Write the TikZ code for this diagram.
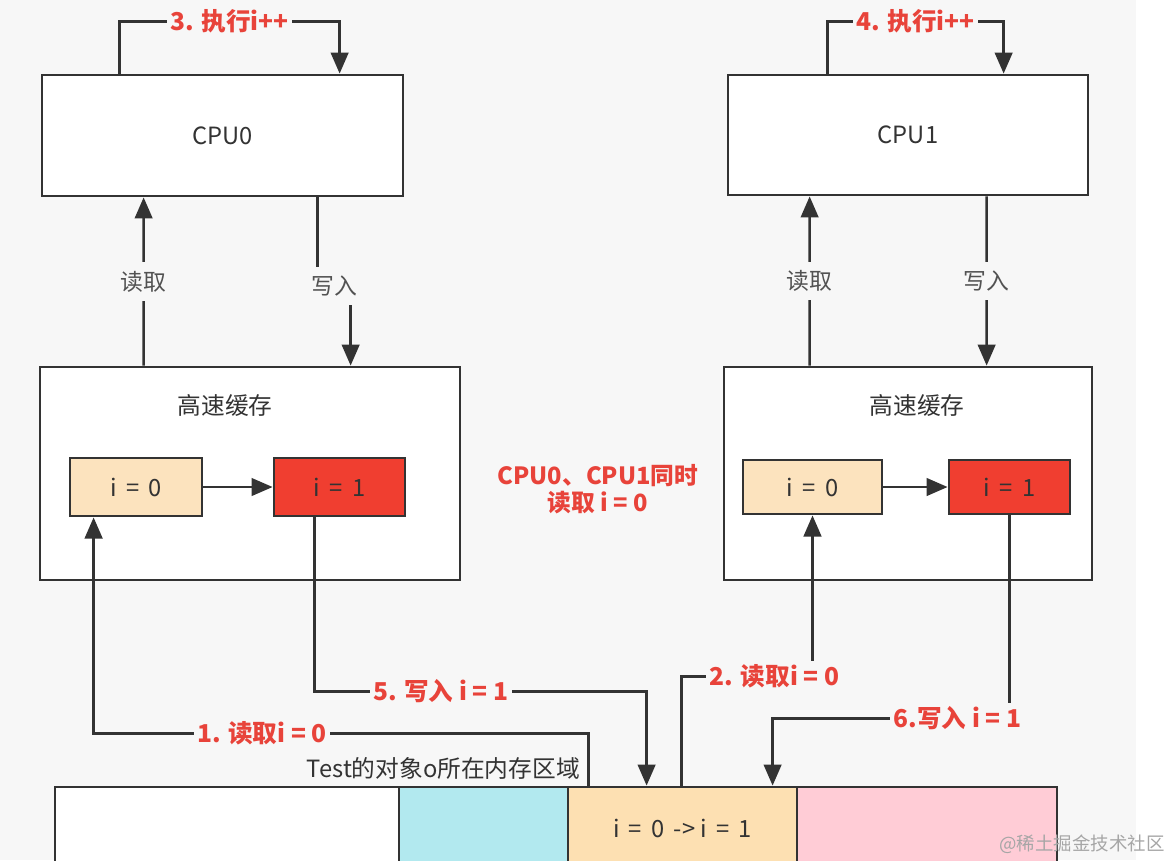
\documentclass[tikz,border=0pt]{standalone}
\usepackage{fontspec}
\setmainfont{Noto Sans CJK SC}
\usetikzlibrary{arrows.meta,calc}
\definecolor{bgc}{HTML}{F7F7F7}
\definecolor{linec}{HTML}{333333}
\definecolor{txtc}{HTML}{333333}
\definecolor{stepred}{HTML}{E8433A}
\definecolor{valorange}{HTML}{FCE3BE}
\definecolor{valred}{HTML}{F03E30}
\definecolor{memcyan}{HTML}{B2E9EF}
\definecolor{memorange}{HTML}{FDE0B2}
\definecolor{mempink}{HTML}{FFCCD6}

\tikzset{
  box/.style={draw=linec, line width=1.6pt, fill=white, text=txtc,
    font=\fontsize{13.5}{16}\selectfont},
  valbox/.style={box, minimum height=1.12cm},
  link/.style={draw=linec, line width=1.5pt, -{Triangle[length=12pt,width=10pt]}},
  steplbl/.style={fill=bgc, text=stepred, inner sep=2pt,
    font=\bfseries\fontsize{14}{16}\selectfont},
  rwlbl/.style={fill=bgc, text=txtc!85, inner sep=5pt,
    font=\fontsize{13}{15}\selectfont}
}

\begin{document}
\begin{tikzpicture}[x=0.02cm, y=-0.02cm]
  \clip (0,0) rectangle (1168,860);
  \fill[bgc] (0,0) rectangle (1136,860);
  \fill[white] (1136,0) rectangle (1168,860);

  \node[box, minimum width=7.22cm, minimum height=2.42cm] (cpu0) at (222.5,135.5) {CPU0};
  \node[box, minimum width=7.2cm, minimum height=2.4cm] (cpu1) at (908,135) {CPU1};

  \node[box, minimum width=8.4cm, minimum height=4.26cm] (cache0) at (250,473.5) {};
  \node[box, minimum width=7.36cm, minimum height=4.26cm] (cache1) at (908,473.5) {};
  \node[text=txtc, font=\fontsize{13.5}{16}\selectfont] (t0) at (225,405) {高速缓存};
  \node[text=txtc, font=\fontsize{13.5}{16}\selectfont] (t1) at (917,405) {高速缓存};

  \node[valbox, fill=valorange, minimum width=2.64cm, minimum height=1.16cm] (c0a) at (136,487) {i \,=\, 0};
  \node[valbox, fill=valred, minimum width=2.62cm, minimum height=1.16cm] (c0b) at (339.5,487) {i \,=\, 1};
  \node[valbox, fill=valorange, minimum width=2.78cm, minimum height=1.08cm] (c1a) at (812.5,487) {i \,=\, 0};
  \node[valbox, fill=valred, minimum width=2.42cm, minimum height=1.08cm] (c1b) at (1009.5,487) {i \,=\, 1};

  \foreach \name/\xa/\xb/\col/\val in {
      m1/55/399/white/{},
      m2/399/568/memcyan/{},
      m3/568/797/memorange/{i \,=\, 0 \,-> i \,=\, 1},
      m4/797/1057/mempink/{}
  } {
    \node[box, fill=\col, minimum width={(\xb-\xa)*0.02cm}, minimum height=1.64cm]
      (\name) at ({(\xa+\xb)/2},828) {\val};
  }
  \node[anchor=east, text=txtc, font=\fontsize{13.5}{16}\selectfont] (memlbl) at (586,768) {Test的对象o所在内存区域};

  \node[text=stepred, align=center, font=\bfseries\fontsize{13.5}{15.5}\selectfont] (sync) at (598,489)
    {CPU0、CPU1同时\\读取 i = 0};

  \draw[link] ($(cache0.north west)+(105,0)$) -- node[rwlbl]{读取} ($(cpu0.south west)+(103,0)$);
  \draw[link] ($(cpu0.south west)+(277,0)$) -- ++(0,89) -| node[pos=0.25, rwlbl]{写入} ($(cache0.north west)+(312,0)$);
  \draw[link] ($(cache1.north west)+(87,0)$) -- node[rwlbl]{读取} ($(cpu1.south west)+(83,0)$);
  \draw[link] ($(cpu1.south west)+(260,0)$) -- node[rwlbl]{写入} ($(cache1.north west)+(264,0)$);

  \draw[link] (c0a) -- (c0b);
  \draw[link] (c1a) -- (c1b);

  \draw[link] ($(cpu0.north west)+(79,0)$) -- ++(0,-52) -| node[pos=0.25, steplbl]{3. 执行i++} ($(cpu0.north west)+(299,0)$);
  \draw[link] ($(cpu1.north west)+(101,0)$) -- ++(0,-52) -| node[pos=0.25, steplbl]{4. 执行i++} ($(cpu1.north west)+(277,0)$);

  \draw[link] ($(m3.north west)+(22,0)$) -- ++(0,-52) -| node[pos=0.33, steplbl]{1. 读取i = 0} ($(c0a.south west)+(25,0)$);
  \draw[link] ($(m3.north west)+(115,0)$) -- ++(0,-109) -| node[pos=0.355, steplbl]{2. 读取i = 0} (c1a.south);
  \draw[link] ($(c0b.south)+(-25,0)$) -- ++(0,174) -| node[pos=0.19, steplbl]{5. 写入 i = 1} ($(m3.north west)+(80,0)$);
  \draw[link] (c1b.south) -- ++(0,203) -| node[pos=0.11, steplbl]{6.写入 i = 1} ($(m3.north west)+(206,0)$);

  \node[text=gray!70, font=\fontsize{10.5}{12}\selectfont] (wm) at (1082,844) {@稀土掘金技术社区};
\end{tikzpicture}
\end{document}
